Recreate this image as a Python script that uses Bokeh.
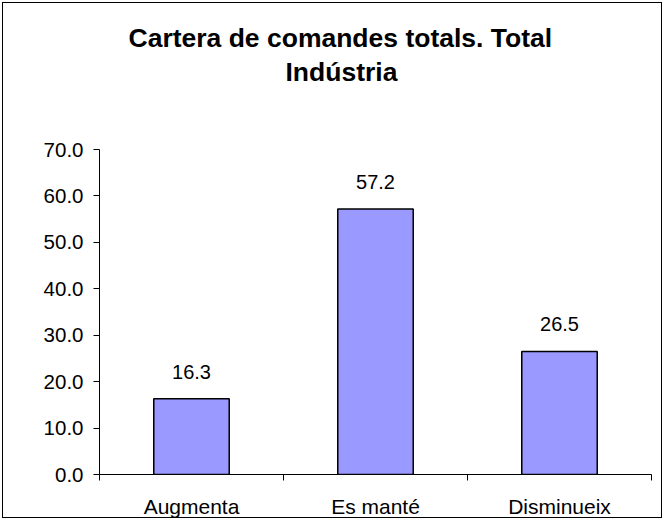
from bokeh.plotting import figure
from bokeh.models import Range1d, FixedTicker, NumeralTickFormatter, Title, ColumnDataSource, InlineStyleSheet
from bokeh.core.properties import value
from bokeh.embed import file_html
from bokeh.resources import INLINE

categories = ["Augmenta", "Es manté", "Disminueix"]
values = [16.3, 57.2, 26.5]
y_ticks = [0, 10, 20, 30, 40, 50, 60, 70]
title_line1 = "Cartera de comandes totals. Total"
title_line2 = "Indústria"

FONT = "Liberation Sans"
W, H = 664, 520

xpos = [i + 0.5 for i in range(len(categories))]
labels = ["%.1f" % v for v in values]
src = ColumnDataSource(dict(x=xpos, top=values, label=labels))

p = figure(width=W, height=H, output_backend="svg", toolbar_location=None,
           x_range=Range1d(0, len(categories)), y_range=Range1d(0, 70),
           min_border_left=99, min_border_right=13, min_border_top=149, min_border_bottom=42)

# chart-area border on the plot's host element (canvas border area left transparent)
p.border_fill_color = None
p.background_fill_color = None
p.stylesheets = [InlineStyleSheet(css=(
    ":host { min-height: %dpx; max-width: %dpx; background: #ffffff; "
    "outline: 1px solid #000000; outline-offset: -3px; }" % (H, W)))]

p.title = None
t0 = Title(text=" ", text_font=FONT, text_font_size="26px", standoff=30)
t2 = Title(text=title_line2, align="left", offset=186, text_font=FONT, text_font_size="26.5px",
           text_font_style="bold", text_color="#000000", standoff=2)
t1 = Title(text=title_line1, align="left", offset=29, text_font=FONT, text_font_size="26.5px",
           text_font_style="bold", text_color="#000000", standoff=2)
p.add_layout(t0, "above")
p.add_layout(t2, "above")
p.add_layout(t1, "above")

p.vbar(x="x", top="top", width=0.41, bottom=0, source=src,
       fill_color="#9999FF", line_color="#000000", line_width=1.5)
p.text(x="x", y="top", text="label", source=src, text_align="center",
       text_baseline="middle", y_offset=-27, text_font=value(FONT),
       text_font_size="20px", text_color="#000000")

p.xgrid.visible = False
p.ygrid.visible = False
p.outline_line_color = None

# y axis
ya = p.yaxis[0]
ya.ticker = FixedTicker(ticks=y_ticks)
ya.formatter = NumeralTickFormatter(format="0.0")
ya.major_tick_out = 6
ya.major_tick_in = 0
ya.minor_tick_out = 0
ya.minor_tick_in = 0
ya.axis_line_color = "#000000"
ya.major_tick_line_color = "#000000"
ya.major_label_text_font = FONT
ya.major_label_text_font_size = "20.5px"
ya.major_label_text_color = "#000000"
ya.major_label_standoff = 10

# x axis
xa = p.xaxis[0]
xa.ticker = FixedTicker(ticks=xpos, minor_ticks=list(range(len(categories) + 1)))
xa.major_label_overrides = {x: c for x, c in zip(xpos, categories)}
xa.major_tick_out = 0
xa.major_tick_in = 0
xa.minor_tick_out = 6
xa.minor_tick_in = 0
xa.minor_tick_line_color = "#000000"
xa.axis_line_color = "#000000"
xa.major_label_text_font = FONT
xa.major_label_text_font_size = "21px"
xa.major_label_text_color = "#000000"
xa.major_label_standoff = 14

open("out.html", "w").write(file_html(p, INLINE))
